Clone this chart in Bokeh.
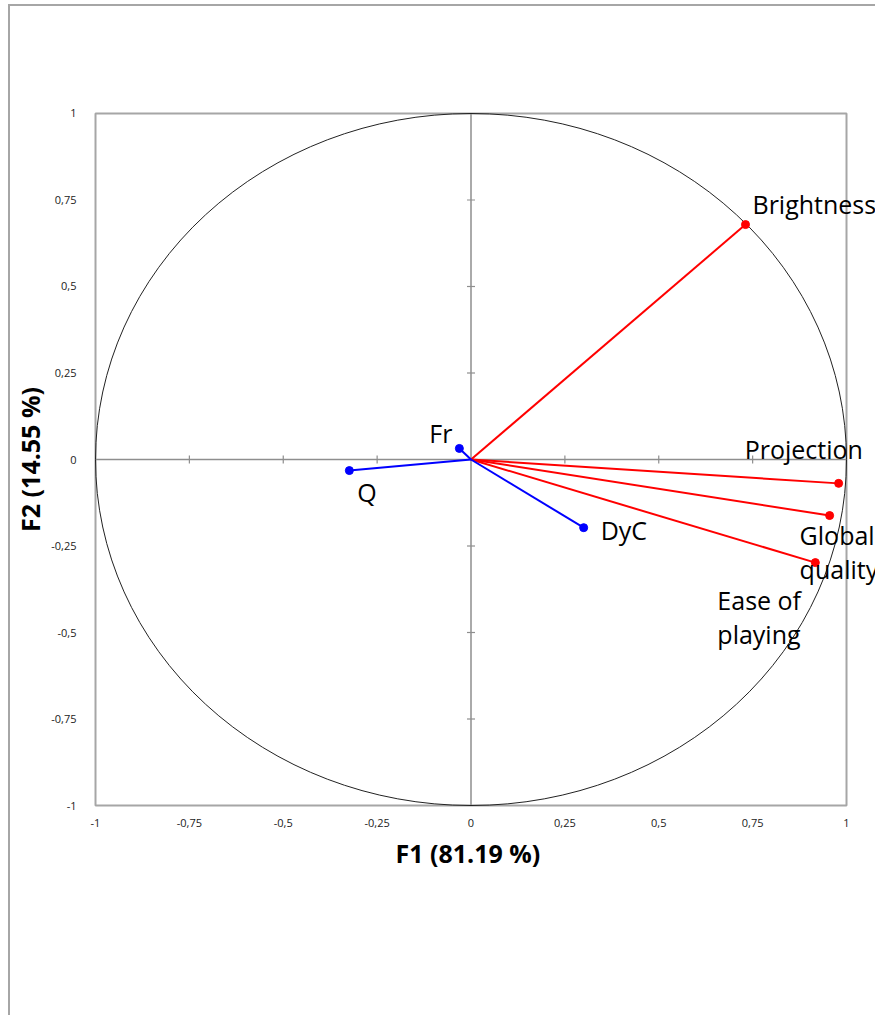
import math
from bokeh.plotting import figure
from bokeh.models import FixedTicker, Label, LinearAxis, Title
from bokeh.embed import file_html
from bokeh.resources import INLINE

# ---- data ----
variables = ["Brightness", "Projection", "Global\nquality", "Ease of\nplaying", "Fr", "Q", "DyC"]
f1 = [0.731, 0.979, 0.955, 0.917, -0.031, -0.324, 0.300]
f2 = [0.679, -0.069, -0.162, -0.298, 0.032, -0.032, -0.197]
groups = ["active", "active", "active", "active", "supp", "supp", "supp"]
ticks = [-1, -0.75, -0.5, -0.25, 0, 0.25, 0.5, 0.75, 1]
tick_labels = ["-1", "-0,75", "-0,5", "-0,25", "0", "0,25", "0,5", "0,75", "1"]
x_title = "F1 (81.19 %)"
y_title = "F2 (14.55 %)"

# ---- styles ----
group_color = {"active": "#ff0000", "supp": "#0000ff"}
# label offsets in screen pixels (dx right, dy down to first baseline)
label_offsets = [(7, -21), (-94, -34), (-30, 19), (-98, 37), (-30, -15), (8, 21), (17, 2)]
line_step = 34
FONT = "Open Sans"

# x range runs a little past +1 so that labels may spill to the page edge
p = figure(width=875, height=1015, x_range=(-1.008, 1.0772), y_range=(-1.00867, 1.00867),
           output_backend="svg", toolbar_location=None,
           x_axis_location=None, y_axis_location=None,
           min_border_left=92, min_border_top=110, min_border_right=0, min_border_bottom=207)
p.grid.visible = False
p.background_fill_color = "white"
p.border_fill_color = None
p.outline_line_color = None
p.styles = {"box-shadow": "inset 8px 4px 0 0 #ffffff, inset 10px 6px 0 0 #a6a6a6"}

override = {t: lab for t, lab in zip(ticks, tick_labels)}
for loc in ("below", "left"):
    ax = LinearAxis(ticker=FixedTicker(ticks=ticks), major_label_overrides=override)
    ax.axis_line_color = None
    ax.major_tick_line_color = None
    ax.minor_tick_line_color = None
    ax.major_label_text_font = FONT
    ax.major_label_text_font_size = "11px"
    ax.major_label_text_color = "#222222"
    ax.axis_label_text_font = FONT
    ax.axis_label_text_font_style = "bold"
    ax.axis_label_text_font_size = "25px"
    ax.axis_label_text_color = "black"
    if loc == "below":
        ax.major_label_standoff = 4
    else:
        ax.axis_label = y_title
        ax.major_label_standoff = 10
        ax.axis_label_standoff = 1
    p.add_layout(ax, loc)

# x title centred on the -1..1 plot area (not on the extended frame)
p.add_layout(Title(text=x_title, align="left", offset=303, text_font=FONT,
                   text_font_style="bold", text_font_size="25px", text_color="black",
                   standoff=9), "below")

lo, hi = ticks[0], ticks[-1]
grey = "#8e8e8e"
# plot-area border
p.quad(left=lo, right=hi, bottom=lo, top=hi, fill_color=None, line_color="#a6a6a6", line_width=2)

# center axes
p.segment(x0=[lo, 0], y0=[0, lo], x1=[hi, 0], y1=[0, hi], line_color=grey, line_width=1.5)
inner = [t for t in ticks if t not in (lo, 0, hi)]
p.scatter(x=inner, y=[0] * len(inner), marker="dash", size=8, angle=math.pi / 2,
          line_color=grey, line_width=1.2)
p.scatter(x=[0] * len(inner), y=inner, marker="dash", size=8, angle=0,
          line_color=grey, line_width=1.2)

# correlation circle
p.ellipse(x=0, y=0, width=2, height=2, fill_color=None, line_color="#222222", line_width=1)

colors = [group_color[g] for g in groups]
p.segment(x0=[0] * len(f1), y0=[0] * len(f2), x1=f1, y1=f2, line_color=colors, line_width=2)
p.scatter(x=f1, y=f2, size=8, fill_color=colors, line_color=colors)

for name, x, y, (dx, dy) in zip(variables, f1, f2, label_offsets):
    for i, line in enumerate(name.split("\n")):
        p.add_layout(Label(x=x, y=y, text=line, x_offset=dx, y_offset=-(dy + i * line_step),
                           text_font=FONT, text_font_size="25px", text_color="black",
                           text_align="left", text_baseline="alphabetic"))

open("out.html", "w").write(file_html(p, INLINE))
